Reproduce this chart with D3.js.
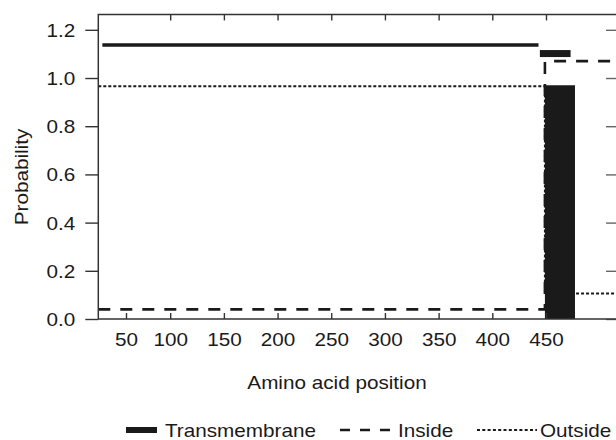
<!DOCTYPE html>
<html>
<head>
<meta charset="utf-8">
<script src="https://cdn.jsdelivr.net/npm/d3@7/dist/d3.min.js"></script>
<style>
  body { margin: 0; background: #fff; }
  text { font-family: "Liberation Sans", Arial, Helvetica, sans-serif; fill: #1a1a1a; }
</style>
</head>
<body>
<svg id="chart" width="616" height="440"></svg>
<script>
// ---- data ----
const bottomTicks = [50, 100, 150, 200, 250, 300, 350, 400, 450];
const topTicks = [100, 150, 200, 250, 300, 350, 400, 450];
const yTicks = [0, 0.2, 0.4, 0.6, 0.8, 1.0, 1.2];

// posterior probabilities (step lines)
const insideProb = [[33, 0.04], [449, 0.04], [449, 1.07], [518, 1.07]];
const outsideProb = [[33, 0.966], [449, 0.966], [449, 0.106], [518, 0.106]];
const tmProb = [{ start: 449, end: 477, p: 0.97 }];

// predicted topology drawn above the curves
const topoLine = [{ start: 35.5, end: 443, y: 1.137 }];
const topoBox = [{ start: 444.3, end: 472.9, y0: 1.087, y1: 1.116 }];

const legendItems = ["Transmembrane", "Inside", "Outside"];

// ---- drawing ----
const svg = d3.select("#chart");
const SX = 1.15; // fonts in the figure are a bit wide

// the printed axis puts its "50" tick a little off the linear spacing
const x = d3.scaleLinear().domain([33, 50, 100, 518]).range([98.3, 126, 170.2, 619]);
const y = d3.scaleLinear().domain([0, 1.264]).range([319, 14.4]);

const ink = "#1a1a1a";

// probability curves
const line = d3.line().x(d => x(d[0])).y(d => y(d[1]));

svg.append("g").selectAll("rect")
  .data(tmProb)
  .join("rect")
  .attr("x", d => x(d.start))
  .attr("y", d => y(d.p))
  .attr("width", d => x(d.end) - x(d.start))
  .attr("height", d => y(0) - y(d.p))
  .attr("fill", ink);

svg.append("path")
  .attr("d", line(outsideProb))
  .attr("fill", "none")
  .attr("stroke", ink)
  .attr("stroke-width", 2)
  .attr("stroke-dasharray", "3,2");

svg.append("path")
  .attr("d", line(insideProb))
  .attr("fill", "none")
  .attr("stroke", ink)
  .attr("stroke-width", 2.6)
  .attr("stroke-dasharray", "12,10");

// topology
svg.append("g").selectAll("line")
  .data(topoLine)
  .join("line")
  .attr("x1", d => x(d.start))
  .attr("x2", d => x(d.end))
  .attr("y1", d => y(d.y))
  .attr("y2", d => y(d.y))
  .attr("stroke", ink)
  .attr("stroke-width", 3.6);

svg.append("g").selectAll("rect")
  .data(topoBox)
  .join("rect")
  .attr("x", d => x(d.start))
  .attr("y", d => y(d.y1))
  .attr("width", d => x(d.end) - x(d.start))
  .attr("height", d => y(d.y0) - y(d.y1))
  .attr("fill", ink);

// axes
function styleAxis(g, color) {
  g.select(".domain").remove();
  g.selectAll(".tick line").attr("stroke", color).attr("stroke-width", 1.4);
}

const gLeft = svg.append("g")
  .attr("transform", `translate(${x.range()[0]},0)`)
  .call(d3.axisLeft(y).tickValues(yTicks).tickFormat(d3.format(".1f")).tickSize(13).tickPadding(10));
styleAxis(gLeft, "#333");
gLeft.selectAll(".tick text")
  .attr("font-size", 18)
  .attr("font-family", null)
  .attr("fill", ink)
  .attr("dy", "0.36em")
  .attr("transform", `scale(${SX},1)`)
  .attr("x", -23 / SX);

const gRight = svg.append("g")
  .attr("transform", `translate(${x.range()[x.range().length - 1]},0)`)
  .call(d3.axisLeft(y).tickValues(yTicks).tickFormat("").tickSize(-13));
styleAxis(gRight, "#666");
gRight.selectAll(".tick line").attr("x2", -13);

const gBottom = svg.append("g")
  .attr("transform", `translate(0,${y(0)})`)
  .call(d3.axisBottom(x).tickValues(bottomTicks).tickSize(-6).tickPadding(12));
styleAxis(gBottom, "#333");
gBottom.selectAll(".tick text")
  .attr("font-size", 18)
  .attr("font-family", null)
  .attr("fill", ink)
  .attr("y", 27)
  .attr("dy", 0)
  .attr("transform", `scale(${SX},1)`);

const gTop = svg.append("g")
  .attr("transform", `translate(0,${y.range()[1]})`)
  .call(d3.axisTop(x).tickValues(topTicks).tickFormat("").tickSize(-6));
styleAxis(gTop, "#333");

// frame lines (left, top, bottom)
const xl = x.range()[0], xr = x.range()[x.range().length - 1];
svg.append("path")
  .attr("d", `M${xr},${y.range()[1]}H${xl}V${y(0)}H${xr}`)
  .attr("stroke", "#333").attr("stroke-width", 1.5).attr("fill", "none");

// axis titles
svg.append("text")
  .attr("transform", `translate(28,177) rotate(-90) scale(${SX},1)`)
  .attr("text-anchor", "middle")
  .attr("font-size", 18)
  .text("Probability");

svg.append("text")
  .attr("transform", `translate(337,389) scale(${SX},1)`)
  .attr("text-anchor", "middle")
  .attr("font-size", 18)
  .text("Amino acid position");

// legend
const legY = 430;
const leg = svg.append("g");
leg.append("rect").attr("x", 126).attr("y", legY - 3).attr("width", 31).attr("height", 6).attr("fill", ink);
leg.append("line").attr("x1", 340).attr("x2", 391).attr("y1", legY).attr("y2", legY)
  .attr("stroke", ink).attr("stroke-width", 2.4).attr("stroke-dasharray", "10,10");
leg.append("line").attr("x1", 477).attr("x2", 537).attr("y1", legY).attr("y2", legY)
  .attr("stroke", ink).attr("stroke-width", 2).attr("stroke-dasharray", "3,2.3");

const legTextX = [165, 398, 540];
leg.selectAll("text")
  .data(legendItems)
  .join("text")
  .attr("transform", (d, i) => `translate(${legTextX[i]},${legY + 6.5}) scale(${SX},1)`)
  .attr("font-size", 18)
  .text(d => d);
</script>
</body>
</html>
